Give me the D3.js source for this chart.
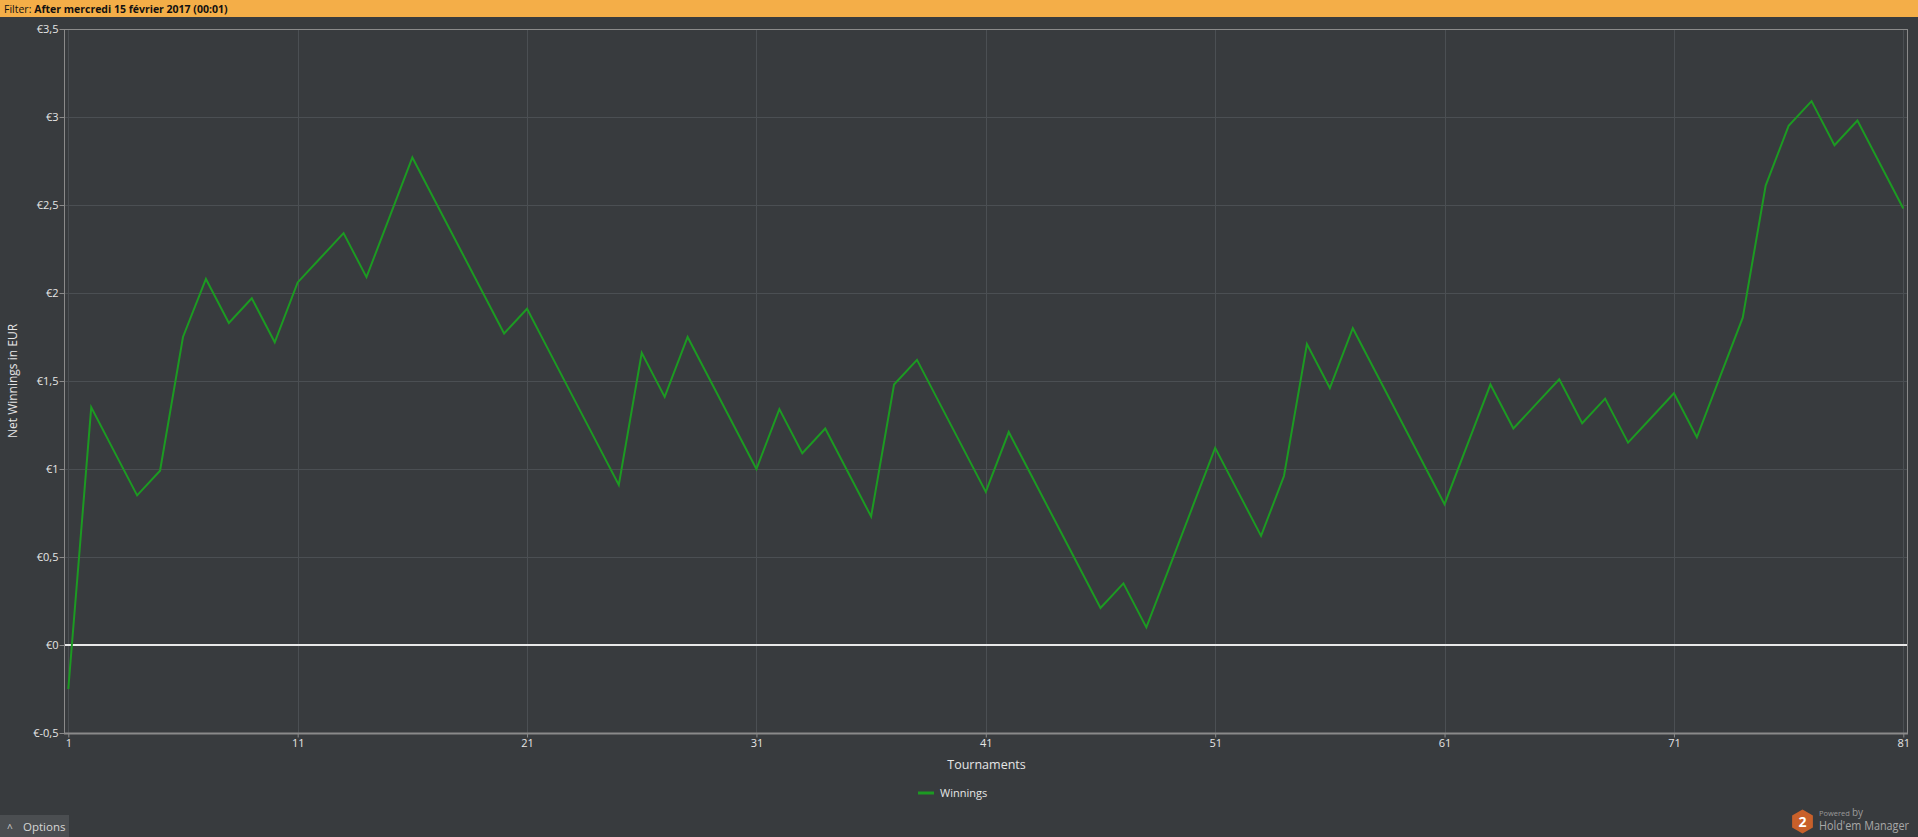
<!DOCTYPE html>
<html>
<head>
<meta charset="utf-8">
<script src="https://cdn.jsdelivr.net/npm/d3@7"></script>
<style>
  html, body { margin: 0; padding: 0; background: #383b3e; overflow: hidden; }
  svg { display: block; font-family: "Open Sans", "Noto Sans", sans-serif; }
</style>
</head>
<body>
<div id="chart"></div>
<script>
// data
var tournaments = d3.range(1, 82);
var winnings = [
  -0.25, 1.35, 1.10, 0.85, 0.99, 1.75, 2.08, 1.83, 1.97, 1.72,
   2.06, 2.20, 2.34, 2.09, 2.43, 2.77, 2.52, 2.27, 2.02, 1.77,
   1.91, 1.66, 1.41, 1.16, 0.91, 1.66, 1.41, 1.75, 1.50, 1.25,
   1.00, 1.34, 1.09, 1.23, 0.98, 0.73, 1.48, 1.62, 1.37, 1.12,
   0.87, 1.21, 0.96, 0.71, 0.46, 0.21, 0.35, 0.10, 0.44, 0.78,
   1.12, 0.87, 0.62, 0.96, 1.71, 1.46, 1.80, 1.55, 1.30, 1.05,
   0.80, 1.14, 1.48, 1.23, 1.37, 1.51, 1.26, 1.40, 1.15, 1.29,
   1.43, 1.18, 1.52, 1.86, 2.61, 2.95, 3.09, 2.84, 2.98, 2.73,
   2.48
];
var xTicks = [1, 11, 21, 31, 41, 51, 61, 71, 81];
var yTicks = [-0.5, 0, 0.5, 1, 1.5, 2, 2.5, 3, 3.5];

var width = 1918, height = 837;
var plot = { left: 64, top: 29, right: 1907, bottom: 733 };

var svg = d3.select("#chart").append("svg")
    .attr("width", width)
    .attr("height", height);

svg.append("rect").attr("width", width).attr("height", height).attr("fill", "#383b3e");

// filter bar
svg.append("rect").attr("width", width).attr("height", 17).attr("fill", "#f4ae48");
var filt = svg.append("text").attr("x", 4).attr("y", 12.5)
    .style("font-size", "10.5px").attr("fill", "#111");
filt.append("tspan").text("Filter: ");
filt.append("tspan").style("font-weight", "bold").text("After mercredi 15 février 2017 (00:01)");

// scales
var x = d3.scaleLinear().domain([1, 81]).range([plot.left + 4.3, plot.right - 3.7]);
var y = d3.scaleLinear().domain([-0.5, 3.5]).range([plot.bottom, plot.top]);

// grid
svg.append("g").selectAll("line").data(yTicks).enter().append("line")
    .attr("x1", plot.left).attr("x2", plot.right)
    .attr("y1", function (d) { return Math.round(y(d)) + 0.5; })
    .attr("y2", function (d) { return Math.round(y(d)) + 0.5; })
    .attr("stroke", "#4b4f53");
svg.append("g").selectAll("line").data(xTicks).enter().append("line")
    .attr("x1", function (d) { return Math.round(x(d)) + 0.5; })
    .attr("x2", function (d) { return Math.round(x(d)) + 0.5; })
    .attr("y1", plot.top).attr("y2", plot.bottom)
    .attr("stroke", "#4b4f53");

// border
svg.append("rect")
    .attr("x", plot.left + 0.5).attr("y", plot.top + 0.5)
    .attr("width", plot.right - plot.left).attr("height", plot.bottom - plot.top)
    .attr("fill", "none").attr("stroke", "#8a8a8a");

// Y axis
var yAxis = svg.append("g")
    .attr("transform", "translate(" + (plot.left + 0.5) + ",0)")
    .call(d3.axisLeft(y).tickValues(yTicks).tickSize(5).tickPadding(1)
        .tickFormat(function (d) { return "€" + String(d).replace(".", ","); }));
yAxis.select(".domain").remove();
yAxis.selectAll("line").attr("stroke", "#8a8a8a");
yAxis.selectAll("text").attr("fill", "#e6e6e6").style("font-size", "11px")
    .style("font-family", "\"Open Sans\", sans-serif");

// X axis
var xAxis = svg.append("g")
    .attr("transform", "translate(0," + (plot.bottom + 0.5) + ")")
    .call(d3.axisBottom(x).tickValues(xTicks).tickSize(4).tickPadding(2)
        .tickFormat(d3.format("d")));
xAxis.select(".domain").attr("stroke", "#8a8a8a").attr("stroke-width", 2)
    .attr("d", "M" + plot.left + ",0H" + (plot.right + 1));
xAxis.selectAll("line").attr("stroke", "#8a8a8a");
xAxis.selectAll("text").attr("fill", "#e6e6e6").style("font-size", "11px")
    .style("font-family", "\"Open Sans\", sans-serif");

// zero line
svg.append("line")
    .attr("x1", plot.left + 1).attr("x2", plot.right)
    .attr("y1", y(0)).attr("y2", y(0))
    .attr("stroke", "#e8e8e8").attr("stroke-width", 2);

// winnings line
var line = d3.line()
    .x(function (d, i) { return x(tournaments[i]); })
    .y(function (d) { return y(d); });
svg.append("path")
    .datum(winnings)
    .attr("d", line)
    .attr("fill", "none")
    .attr("stroke", "#1c9a22")
    .attr("stroke-width", 2)
    .attr("stroke-linejoin", "miter");

// axis titles
svg.append("text")
    .attr("x", (plot.left + plot.right) / 2 + 1).attr("y", 769)
    .attr("text-anchor", "middle")
    .attr("fill", "#e6e6e6").style("font-size", "12.5px")
    .text("Tournaments");

svg.append("text")
    .attr("transform", "translate(17,381) rotate(-90)")
    .attr("text-anchor", "middle")
    .attr("fill", "#e6e6e6").style("font-size", "12px")
    .text("Net Winnings in EUR");

// legend
svg.append("line")
    .attr("x1", 918).attr("x2", 934).attr("y1", 793).attr("y2", 793)
    .attr("stroke", "#1c9a22").attr("stroke-width", 3);
svg.append("text")
    .attr("x", 940).attr("y", 797)
    .attr("fill", "#e6e6e6").style("font-size", "11px")
    .text("Winnings");

// options button
svg.append("rect").attr("x", 0).attr("y", 815).attr("width", 69).attr("height", 22)
    .attr("fill", "#4b4e51");
svg.append("text").attr("x", 7).attr("y", 832)
    .attr("fill", "#cfcfcf").style("font-size", "10px").text("^");
svg.append("text").attr("x", 23).attr("y", 830.5)
    .attr("fill", "#d6d6d6").style("font-size", "11.5px").text("Options");

// powered by badge
var hx = 1802.5, hy = 821.5, hr = 12;
var hex = d3.range(6).map(function (i) {
    var a = Math.PI / 3 * i + Math.PI / 6;
    return [hx + hr * Math.cos(a), hy + hr * Math.sin(a)];
});
svg.append("path").attr("d", "M" + hex.join("L") + "Z").attr("fill", "#c8602a");
svg.append("text").attr("x", hx).attr("y", hy + 5)
    .attr("text-anchor", "middle").attr("fill", "#fff")
    .style("font-size", "14px").style("font-weight", "bold").text("2");
var pw = svg.append("text").attr("x", 1819).attr("y", 816)
    .attr("fill", "#9a9a9a");
pw.append("tspan").style("font-size", "7.5px").text("Powered ");
pw.append("tspan").style("font-size", "10px").text("by");
svg.append("text").attr("x", 1819).attr("y", 830)
    .attr("fill", "#a8a8a8").style("font-size", "12px")
    .attr("textLength", 90).attr("lengthAdjust", "spacingAndGlyphs")
    .text("Hold'em Manager");
</script>
</body>
</html>
